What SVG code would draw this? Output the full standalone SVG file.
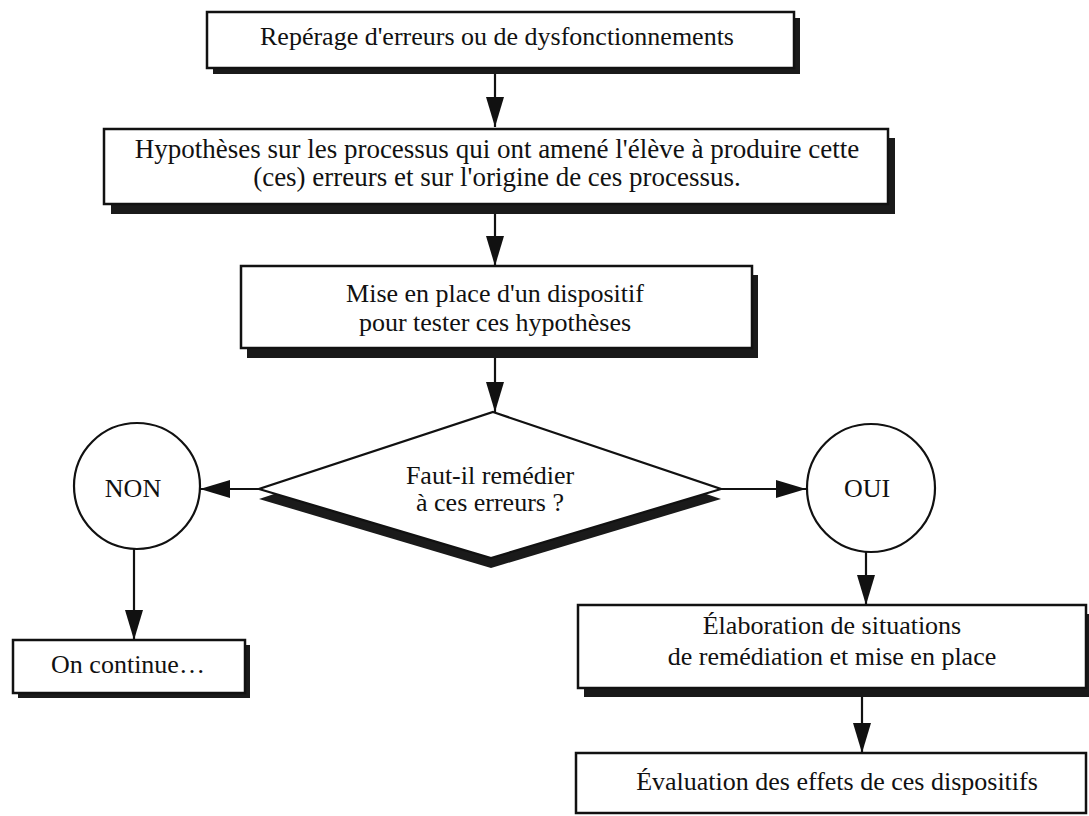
<svg xmlns="http://www.w3.org/2000/svg" width="1089" height="816" viewBox="0 0 1089 816">
<defs>
<style>
.box{fill:#fff;stroke:#111;stroke-width:2.5}
.shadow{fill:#1a1a1a}
.circ{fill:#fff;stroke:#111;stroke-width:2.2}
.t{font-family:"Liberation Serif","Times New Roman",serif;font-size:26px;fill:#111;text-anchor:middle}
.conn{stroke:#111;stroke-width:2.2;fill:none;marker-end:url(#ah)}
</style>
<marker id="ah" markerUnits="userSpaceOnUse" markerWidth="30" markerHeight="18" viewBox="0 0 30 18" refX="30" refY="9" orient="auto">
<path d="M0,0 L30,9 L0,18 z" fill="#111"/>
</marker>
</defs>
<rect width="1089" height="816" fill="#fff"/>

<g id="connectors">
<line class="conn" x1="495" y1="74" x2="495" y2="127"/>
<line class="conn" x1="495" y1="212" x2="495" y2="266"/>
<line class="conn" x1="495" y1="358" x2="495" y2="412"/>
<line class="conn" x1="259" y1="489" x2="200" y2="489"/>
<line class="conn" x1="721" y1="489" x2="806" y2="489"/>
<line class="conn" x1="134" y1="548" x2="134" y2="640"/>
<line class="conn" x1="866" y1="550" x2="866" y2="605"/>
<line class="conn" x1="862" y1="697" x2="862" y2="753"/>
</g>

<g id="n1">
<rect class="shadow" x="213" y="18" width="587" height="56"/>
<rect class="box" x="207" y="12" width="587" height="56"/>
<text class="t" x="497" y="45">Repérage d'erreurs ou de dysfonctionnements</text>
</g>

<g id="n2">
<rect class="shadow" x="111" y="138" width="784" height="76"/>
<rect class="box" x="104" y="129" width="784" height="75"/>
<text class="t" x="497" y="158" style="font-size:27px">Hypothèses sur les processus qui ont amené l'élève à produire cette</text>
<text class="t" x="497" y="186" style="font-size:27px">(ces) erreurs et sur l'origine de ces processus.</text>
</g>

<g id="n3">
<rect class="shadow" x="247" y="275" width="511" height="83"/>
<rect class="box" x="241" y="266" width="511" height="82"/>
<text class="t" x="495" y="302">Mise en place d'un dispositif</text>
<text class="t" x="495" y="331">pour tester ces hypothèses</text>
</g>

<g id="decision">
<polygon class="shadow" points="493,422 721,499 491,568 259,499"/>
<polygon class="box" points="493,412 721,489 491,558 259,489" style="stroke-width:2.2"/>
<text class="t" x="490" y="484">Faut-il remédier</text>
<text class="t" x="490" y="511">à ces erreurs ?</text>
</g>

<g id="non">
<circle class="circ" cx="137" cy="486" r="63"/>
<text class="t" x="133" y="497">NON</text>
</g>

<g id="oui">
<circle class="circ" cx="871" cy="488" r="64"/>
<text class="t" x="867" y="497">OUI</text>
</g>

<g id="continue">
<rect class="shadow" x="18" y="645" width="232" height="53"/>
<rect class="box" x="13" y="640" width="232" height="53"/>
<text class="t" x="128" y="673">On continue…</text>
</g>

<g id="elaboration">
<rect class="shadow" x="584" y="614" width="505" height="83"/>
<rect class="box" x="578" y="605" width="508" height="83"/>
<text class="t" x="832" y="634">Élaboration de situations</text>
<text class="t" x="832" y="665">de remédiation et mise en place</text>
</g>

<g id="evaluation">
<rect class="box" x="576" y="753" width="510" height="60"/>
<text class="t" x="837" y="790">Évaluation des effets de ces dispositifs</text>
</g>
</svg>
